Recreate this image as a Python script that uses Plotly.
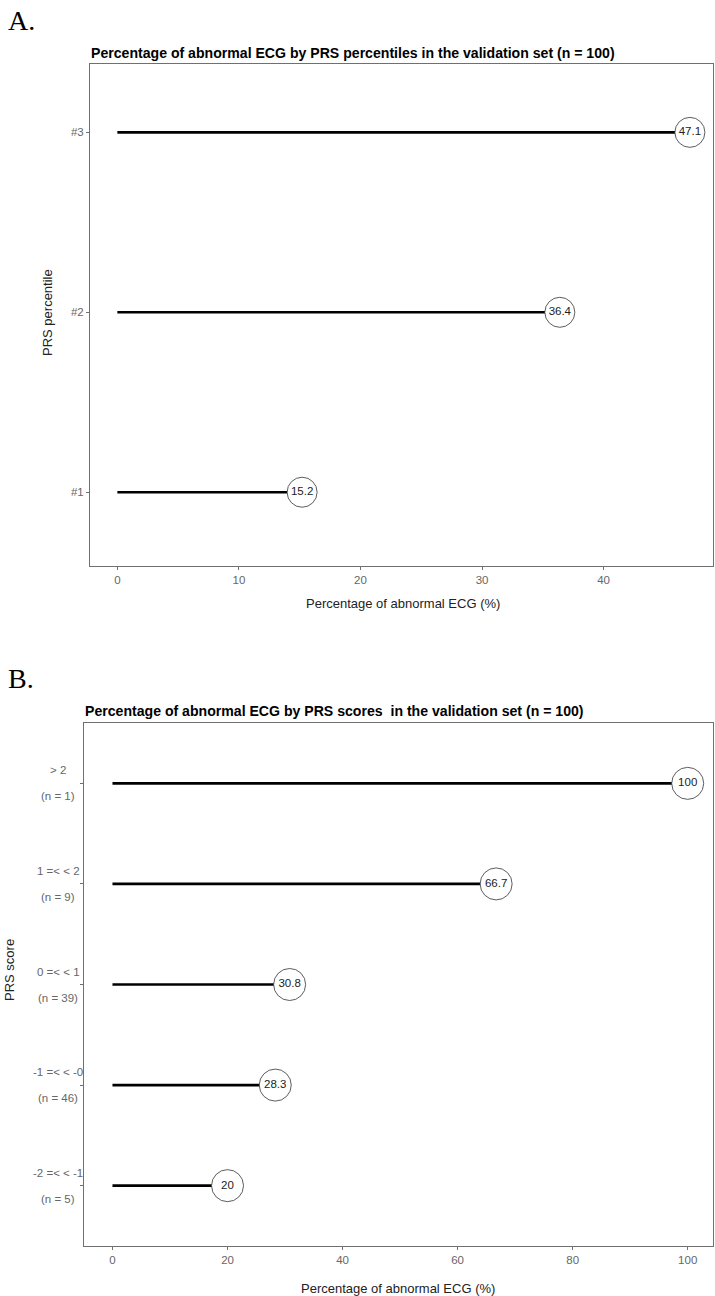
import plotly.graph_objects as go

# ---- data ----
pct_labels = ["#1", "#2", "#3"]
pct_values = [15.2, 36.4, 47.1]

score_labels = ["-2 =< < -1", "-1 =< < -0", "0 =< < 1", "1 =< < 2", "> 2"]
score_n = [5, 46, 39, 9, 1]
score_values = [20, 28.3, 30.8, 66.7, 100]

pct_ticks = [0, 10, 20, 30, 40]
score_ticks = [0, 20, 40, 60, 80, 100]

W, H = 715, 1296
def px(x):
    return x / W
def py(y):
    return 1 - y / H

FONT = "Liberation Sans, Arial, sans-serif"
GRAY = "#707070"
TICKC = "#666666"

fig = go.Figure()

def add_lollipop(labels, values, xa, ya, size):
    for lab, v in zip(labels, values):
        fig.add_trace(go.Scatter(
            x=[0, v], y=[lab, lab], mode="lines",
            line=dict(color="black", width=2.6),
            xaxis=xa, yaxis=ya, showlegend=False, hoverinfo="skip"))
    fig.add_trace(go.Scatter(
        x=values, y=labels, mode="markers+text",
        text=[f"{v:g}" for v in values], textposition="middle center",
        textfont=dict(family=FONT, size=11.5, color="#222"),
        marker=dict(size=size, color="white", line=dict(color="#333", width=0.8)),
        xaxis=xa, yaxis=ya, showlegend=False, cliponaxis=False))

add_lollipop(pct_labels, pct_values, "x", "y", 30)
add_lollipop(score_labels, score_values, "x2", "y2", 32)

axis_common = dict(showline=True, mirror=True, linecolor=GRAY, linewidth=1,
                   ticks="outside", ticklen=3, tickcolor=GRAY, tickwidth=1,
                   showgrid=False, zeroline=False,
                   tickfont=dict(family=FONT, size=11.5, color=TICKC))

fig.update_layout(
    width=W, height=H, margin=dict(l=0, r=0, t=0, b=0),
    paper_bgcolor="white", plot_bgcolor="white",
    xaxis=dict(domain=[px(90), px(713)], anchor="y", range=[-2.25, 49.0],
               tickvals=pct_ticks, **axis_common),
    yaxis=dict(domain=[py(566), py(64)], anchor="x", type="category",
               categoryorder="array", categoryarray=pct_labels,
               range=[-0.41, 2.38], **axis_common),
    xaxis2=dict(domain=[px(84), px(713)], anchor="y2", range=[-4.95, 104.4],
                tickvals=score_ticks, **axis_common),
    yaxis2=dict(domain=[py(1246), py(723)], anchor="x2", type="category",
                categoryorder="array", categoryarray=score_labels,
                range=[-0.6, 4.6], showticklabels=False, **axis_common),
)

ann = []
LETTER_FONT = dict(family="Liberation Serif, Times New Roman, serif", size=28, color="black")
ann.append(dict(text="A.", x=px(6), y=py(3), xref="paper", yref="paper",
                xanchor="left", yanchor="top", showarrow=False, font=LETTER_FONT))
ann.append(dict(text="B.", x=px(6), y=py(678), xref="paper", yref="paper",
                xanchor="left", yanchor="middle", showarrow=False, font=LETTER_FONT))
# titles
TITLE_FONT = dict(family=FONT, size=14.1, color="black", weight="bold")
ann.append(dict(text="Percentage of abnormal ECG by PRS percentiles in the validation set (n = 100)",
                x=px(89), y=py(53), xref="paper", yref="paper", xanchor="left", yanchor="middle",
                showarrow=False, font=TITLE_FONT))
ann.append(dict(text="Percentage of abnormal ECG by PRS scores  in the validation set (n = 100)",
                x=px(83), y=py(711), xref="paper", yref="paper", xanchor="left", yanchor="middle",
                showarrow=False, font=TITLE_FONT))
# axis titles
AX_FONT = dict(family=FONT, size=13, color="#222")
ann.append(dict(text="Percentage of abnormal ECG (%)", x=px(403), y=py(603), xref="paper", yref="paper",
                xanchor="center", yanchor="middle", showarrow=False, font=AX_FONT))
ann.append(dict(text="PRS percentile", x=px(47), y=py(313), xref="paper", yref="paper",
                xanchor="center", yanchor="middle", showarrow=False, textangle=-90, font=AX_FONT))
ann.append(dict(text="Percentage of abnormal ECG (%)", x=px(398), y=py(1288), xref="paper", yref="paper",
                xanchor="center", yanchor="middle", showarrow=False, font=AX_FONT))
ann.append(dict(text="PRS score", x=px(9), y=py(970), xref="paper", yref="paper",
                xanchor="center", yanchor="middle", showarrow=False, textangle=-90, font=AX_FONT))
# two-line category labels for panel B
for lab, n in zip(score_labels, score_n):
    ann.append(dict(text=lab, x=px(58), y=lab, xref="paper", yref="y2", yshift=13,
                    xanchor="center", yanchor="middle", showarrow=False,
                    font=dict(family=FONT, size=11.5, color=TICKC)))
    ann.append(dict(text=f"(n = {n})", x=px(58), y=lab, xref="paper", yref="y2", yshift=-13,
                    xanchor="center", yanchor="middle", showarrow=False,
                    font=dict(family=FONT, size=11.5, color=TICKC)))

fig.update_layout(annotations=ann)
fig.write_html("out.html", config={"displayModeBar": False},
               post_script="document.body.style.margin='0';document.body.style.overflow='hidden';")
